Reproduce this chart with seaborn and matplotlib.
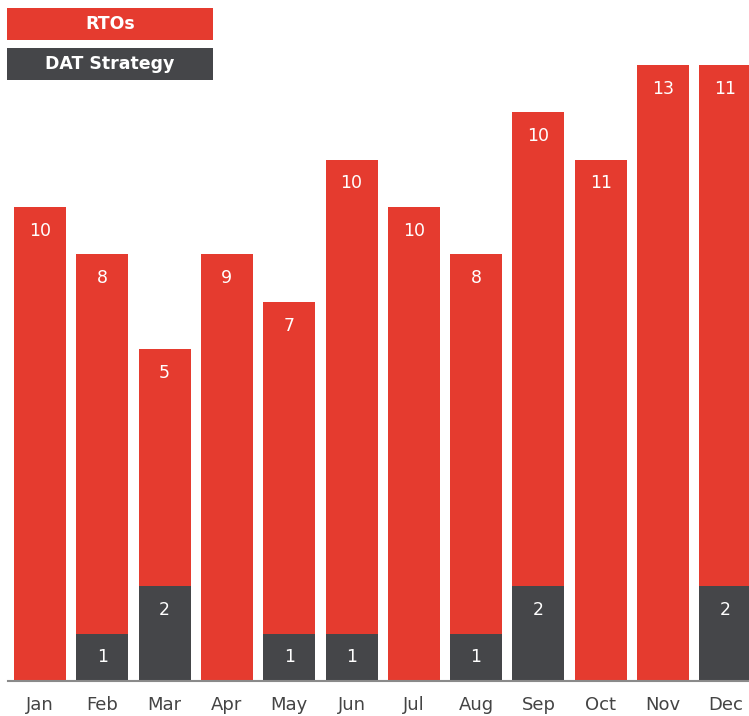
import matplotlib
matplotlib.use("Agg")
import matplotlib.pyplot as plt
import seaborn as sns
import pandas as pd
from matplotlib.patches import Rectangle

months = ["Jan", "Feb", "Mar", "Apr", "May", "Jun", "Jul", "Aug", "Sep", "Oct", "Nov", "Dec"]
rtos = [10, 8, 5, 9, 7, 10, 10, 8, 10, 11, 13, 11]
dat = [0, 1, 2, 0, 1, 1, 0, 1, 2, 0, 0, 2]

RED = "#E53B2F"
DARK = "#454649"

sns.set_theme(style="white")
plt.rcParams['font.family'] = ['DejaVu Sans']

df = pd.DataFrame({"month": months, "RTOs": rtos, "DAT": dat})
df["total"] = df["RTOs"] + df["DAT"]

fig = plt.figure(figsize=(7.49, 7.16), dpi=100)
ax = fig.add_axes([8/749, 35/716, 741/749, 681/716])

sns.barplot(data=df, x="month", y="total", color=RED, saturation=1, width=0.835,
            linewidth=0, edgecolor="none", ax=ax)
sns.barplot(data=df, x="month", y="DAT", color=DARK, saturation=1, width=0.835,
            linewidth=0, edgecolor="none", ax=ax)

for i, (r, d) in enumerate(zip(rtos, dat)):
    ax.text(i, r + d - 0.5, str(r), ha="center", va="center", color="white", fontsize=12.5)
    if d > 0:
        ax.text(i, d - 0.5, str(d), ha="center", va="center", color="white", fontsize=12.5)

ax.set_xlim(-0.514, 11.38)
ax.set_ylim(0, 14.37)
ax.set_xlabel("")
ax.set_ylabel("")
ax.set_yticks([])
for s in ["top", "right", "left"]:
    ax.spines[s].set_visible(False)
ax.spines["bottom"].set_color("#8a8a8a")
ax.spines["bottom"].set_linewidth(1.5)
ax.tick_params(axis="x", length=0, pad=11, labelsize=13, colors="#444444")

# legend boxes
for y0, label, col in [(8, "RTOs", RED), (48, "DAT Strategy", DARK)]:
    fig.patches.append(Rectangle((7/749, 1 - (y0 + 32)/716), 206/749, 32/716,
                                 transform=fig.transFigure, facecolor=col, edgecolor="none", zorder=5))
    fig.text((7 + 103)/749, 1 - (y0 + 16)/716, label, ha="center", va="center",
             color="white", fontsize=12.5, fontweight="bold", zorder=6)

fig.savefig("out.png", dpi=100)
